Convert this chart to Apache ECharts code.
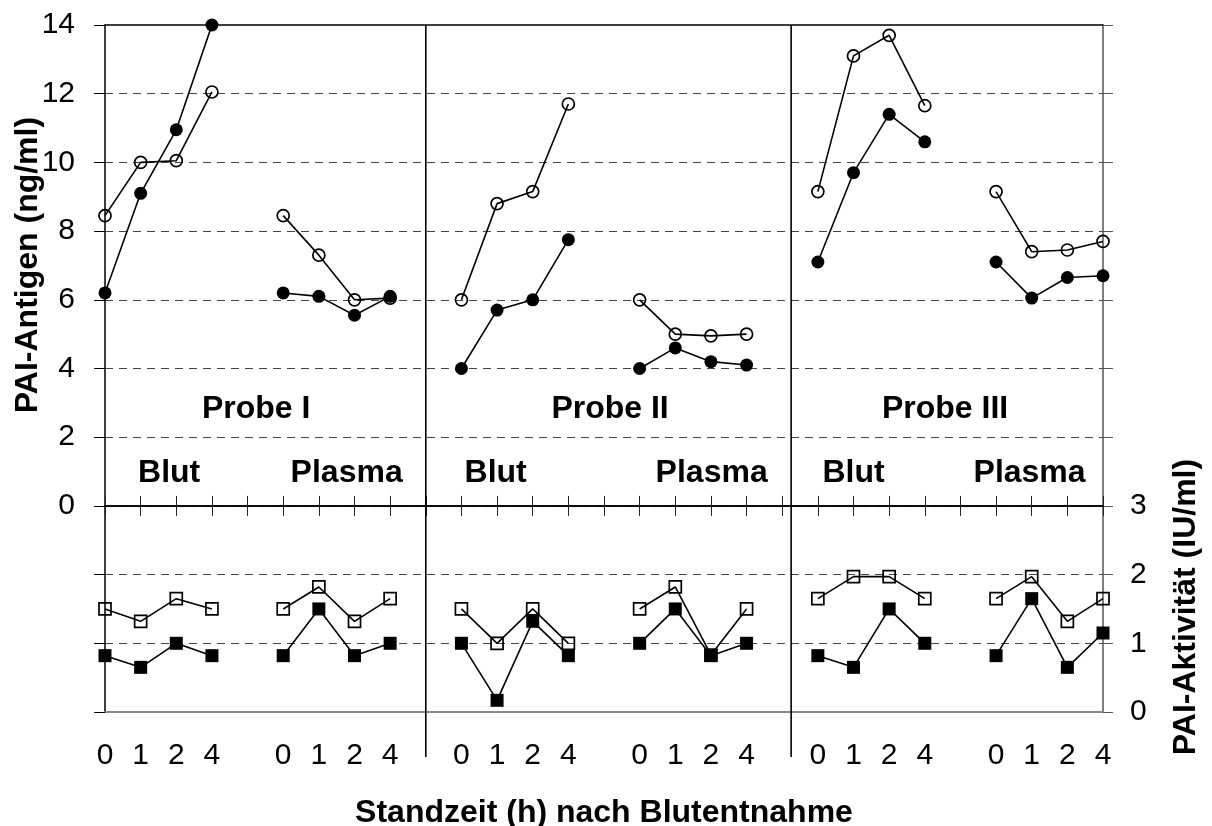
<!DOCTYPE html>
<html>
<head>
<meta charset="utf-8">
<title>PAI-Antigen und PAI-Aktivität</title>
<script src="https://cdn.jsdelivr.net/npm/echarts@6/dist/echarts.min.js"></script>
<style>
  html, body { margin: 0; padding: 0; background: #fff; }
  #chart { width: 1212px; height: 826px; }
</style>
</head>
<body>
<div id="chart"></div>
<script>
// Sampling times (h) after blood collection, repeated in every block
const hours = ['0', '1', '2', '4'];
// Blocks along the x axis: Probe I Blut, Probe I Plasma, Probe II Blut, ...
const probes = ['Probe I', 'Probe II', 'Probe III'];
const materials = ['Blut', 'Plasma'];

// PAI-Antigen (ng/ml), one row of four times per block
const antigenFilled = [
  [6.2, 9.1, 10.95, 14.0],
  [6.2, 6.1, 5.55, 6.1],
  [4.0, 5.7, 6.0, 7.75],
  [4.0, 4.6, 4.2, 4.1],
  [7.1, 9.7, 11.4, 10.6],
  [7.1, 6.05, 6.65, 6.7]
];
const antigenOpen = [
  [8.45, 10.0, 10.05, 12.05],
  [8.45, 7.3, 6.0, 6.05],
  [6.0, 8.8, 9.15, 11.7],
  [6.0, 5.0, 4.95, 5.0],
  [9.15, 13.1, 13.7, 11.65],
  [9.15, 7.4, 7.45, 7.7]
];

// PAI-Aktivität (IU/ml)
const activityFilled = [
  [0.82, 0.65, 1.0, 0.82],
  [0.82, 1.5, 0.82, 1.0],
  [1.0, 0.17, 1.32, 0.82],
  [1.0, 1.5, 0.82, 1.0],
  [0.82, 0.65, 1.5, 1.0],
  [0.82, 1.65, 0.65, 1.15]
];
const activityOpen = [
  [1.5, 1.32, 1.65, 1.5],
  [1.5, 1.82, 1.32, 1.65],
  [1.5, 1.0, 1.5, 1.0],
  [1.5, 1.82, 0.83, 1.5],
  [1.65, 1.97, 1.97, 1.65],
  [1.65, 1.97, 1.32, 1.65]
];

// Axis ranges: the antigen scale is shifted down so the activity panel sits below it
const antigenTicks = { min: -6, max: 14, step: 2 };
const activityTicks = { min: 0, max: 10, step: 1, shownMax: 3 };

// Each block takes four slots plus one empty slot
const SLOT = 5;
const X_MAX = SLOT * 6 - 2;

// Vertical dividers between the Proben
const dividers = [9, 19.25];

// In-plot annotations in axis units (x slot, antigen value)
const blockLabels = [
  { text: materials[0], x: 1.8, y: 0.96 },
  { text: materials[1], x: 6.78, y: 0.96 },
  { text: materials[0], x: 10.96, y: 0.96 },
  { text: materials[1], x: 17.02, y: 0.96 },
  { text: materials[0], x: 21.0, y: 0.96 },
  { text: materials[1], x: 25.94, y: 0.96 }
];
const probeLabels = [
  { text: probes[0], x: 4.24, y: 2.83 },
  { text: probes[1], x: 14.17, y: 2.83 },
  { text: probes[2], x: 23.57, y: 2.83 }
];

const FONT = 'Arial, "Liberation Sans", Helvetica, sans-serif';

// Text for each x slot
const slotText = [];
for (let g = 0; g < 6; g++) {
  hours.forEach((h, i) => { slotText[g * SLOT + i] = h; });
}

// Turn blocks into [slot, value] pairs, breaking the line after each block
function toLineData(blocks) {
  const out = [];
  blocks.forEach((vals, g) => {
    vals.forEach((v, i) => out.push([g * SLOT + i, v]));
    out.push([g * SLOT + 4, '-']);
  });
  return out;
}

function lineSeries(name, blocks, yAxisIndex, symbol, size, filled) {
  return {
    name: name,
    type: 'line',
    xAxisIndex: 2,
    yAxisIndex: yAxisIndex,
    data: toLineData(blocks),
    connectNulls: false,
    symbol: symbol,
    symbolSize: size,
    showSymbol: true,
    lineStyle: { color: '#000', width: 1.6 },
    itemStyle: filled
      ? { color: '#000', borderColor: '#000', borderWidth: 0 }
      : { color: 'rgba(0,0,0,0)', borderColor: '#000', borderWidth: 1.7 },
    emphasis: { disabled: true },
    z: filled ? 4 : 3
  };
}

const xBase = {
  type: 'value',
  min: 0,
  max: X_MAX,
  interval: 1,
  splitLine: { show: false },
  axisLabel: { show: false }
};

const annotations = blockLabels.concat(probeLabels);

const chart = echarts.init(document.getElementById('chart'), null, { renderer: 'canvas' });

chart.setOption({
  animation: false,
  backgroundColor: '#fff',
  textStyle: { fontFamily: FONT, color: '#000' },
  grid: {
    left: 105,
    right: 109,
    top: 25,
    bottom: 114,
    containLabel: false,
    outerBoundsMode: 'none'
  },
  xAxis: [
    // zero line of the antigen panel, ticks pointing down
    Object.assign({}, xBase, {
      position: 'bottom',
      axisLine: { show: true, onZero: true, onZeroAxisIndex: 0, lineStyle: { color: '#000', width: 1.5 } },
      axisTick: { show: true, length: 10, lineStyle: { color: '#222', width: 1 } }
    }),
    // same line, ticks pointing up
    Object.assign({}, xBase, {
      position: 'top',
      axisLine: { show: true, onZero: true, onZeroAxisIndex: 0, lineStyle: { color: '#000', width: 1.5 } },
      axisTick: { show: true, length: 10, lineStyle: { color: '#222', width: 1 } }
    }),
    // bottom edge with the time labels and the axis title
    Object.assign({}, xBase, {
      position: 'bottom',
      axisLine: { show: true, onZero: false, lineStyle: { color: '#8a8a8a', width: 2 } },
      axisTick: { show: false },
      axisLabel: {
        show: true,
        formatter: (v) => slotText[Math.round(v)] || '',
        fontSize: 30,
        color: '#000',
        fontFamily: FONT,
        margin: 29,
        showMinLabel: true,
        showMaxLabel: true,
        hideOverlap: false
      },
      name: 'Standzeit (h) nach Blutentnahme',
      nameLocation: 'middle',
      nameGap: 85,
      nameTextStyle: { fontSize: 32, fontWeight: 'bold', color: '#000', fontFamily: FONT }
    }),
    // top border
    Object.assign({}, xBase, {
      position: 'top',
      axisLine: { show: true, onZero: false, lineStyle: { color: '#000', width: 1.5 } },
      axisTick: { show: false }
    })
  ],
  yAxis: [
    {
      type: 'value',
      position: 'left',
      min: antigenTicks.min,
      max: antigenTicks.max,
      interval: antigenTicks.step,
      axisLine: { show: true, onZero: false, lineStyle: { color: '#000', width: 1.5 } },
      axisTick: { show: true, length: 11, lineStyle: { color: '#000', width: 1 } },
      axisLabel: {
        formatter: (v) => (v >= 0 ? String(v) : ''),
        fontSize: 30,
        color: '#000',
        fontFamily: FONT,
        margin: 30,
        showMinLabel: true,
        showMaxLabel: true
      },
      splitLine: {
        show: true,
        showMinLine: false,
        showMaxLine: false,
        lineStyle: { type: [8, 6], color: '#444', width: 1.2 }
      }
    },
    {
      type: 'value',
      position: 'right',
      min: activityTicks.min,
      max: activityTicks.max,
      interval: activityTicks.step,
      alignTicks: false,
      axisLine: { show: true, onZero: false, lineStyle: { color: '#555', width: 1.5 } },
      axisTick: { show: true, length: 10, lineStyle: { color: '#555', width: 1 } },
      axisLabel: {
        formatter: (v) => (v <= activityTicks.shownMax ? String(v) : ''),
        fontSize: 30,
        color: '#000',
        fontFamily: FONT,
        margin: 27,
        showMinLabel: true,
        showMaxLabel: true
      },
      splitLine: { show: false }
    }
  ],
  graphic: [
    {
      type: 'text',
      x: 28,
      y: 265,
      rotation: Math.PI / 2,
      style: {
        text: 'PAI-Antigen (ng/ml)',
        font: 'bold 32px ' + FONT,
        fill: '#000',
        align: 'center',
        verticalAlign: 'middle'
      }
    },
    {
      type: 'text',
      x: 1186,
      y: 607,
      rotation: Math.PI / 2,
      style: {
        text: 'PAI-Aktivität (IU/ml)',
        font: 'bold 32px ' + FONT,
        fill: '#000',
        align: 'center',
        verticalAlign: 'middle'
      }
    }
  ],
  series: [
    {
      type: 'custom',
      xAxisIndex: 2,
      yAxisIndex: 0,
      data: dividers.map((d) => [d, 0]),
      encode: { x: 0, y: 1 },
      clip: false,
      silent: true,
      z: 2,
      renderItem: function (params, api) {
        const x = api.value(0);
        const top = api.coord([x, antigenTicks.max]);
        const bottom = api.coord([x, antigenTicks.min]);
        return {
          type: 'line',
          shape: { x1: top[0], y1: top[1], x2: bottom[0], y2: bottom[1] + 45 },
          style: { stroke: '#000', lineWidth: 1.6 }
        };
      }
    },
    lineSeries('Antigen offen', antigenOpen, 0, 'circle', 12, false),
    lineSeries('Antigen', antigenFilled, 0, 'circle', 13, true),
    lineSeries('Aktivität offen', activityOpen, 1, 'rect', 12, false),
    lineSeries('Aktivität', activityFilled, 1, 'rect', 13, true),
    {
      // Probe and material captions placed in axis units
      type: 'custom',
      xAxisIndex: 2,
      yAxisIndex: 0,
      data: annotations.map((a, i) => [a.x, a.y, i]),
      encode: { x: 0, y: 1 },
      clip: false,
      silent: true,
      z: 5,
      renderItem: function (params, api) {
        const p = api.coord([api.value(0), api.value(1)]);
        return {
          type: 'text',
          x: p[0],
          y: p[1],
          style: {
            text: annotations[api.value(2)].text,
            font: 'bold 32px ' + FONT,
            fill: '#000',
            opacity: 1,
            align: 'center',
            verticalAlign: 'middle'
          }
        };
      }
    }
  ]
});
</script>
</body>
</html>
